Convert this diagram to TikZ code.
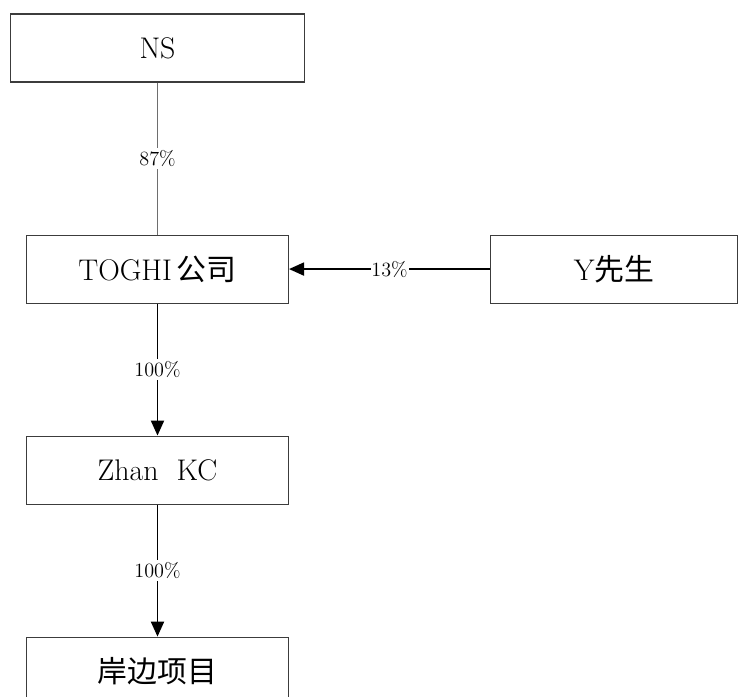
\documentclass[tikz,border=0pt]{standalone}
\usepackage{fontspec}
\newfontfamily\cjk{Noto Sans CJK SC}
\usetikzlibrary{positioning, arrows.meta}
\definecolor{boxgray}{RGB}{60,60,60}
\definecolor{linegray}{RGB}{110,110,110}

\begin{document}
\begin{tikzpicture}[
  node distance=2.64cm,
  ownbox/.style={draw=boxgray, line width=0.6pt, minimum width=5.24cm, minimum height=1.36cm,
                 inner sep=0pt, font=\fontsize{17}{20}\selectfont},
  share/.style={-{Triangle[length=0.3cm, width=0.26cm]}, line width=1.1pt},
  pct/.style={fill=white, text=black, inner sep=1.5pt, font=\fontsize{11.5}{13}\selectfont}
]
  \useasboundingbox (0,0) rectangle (14.88,-13.94);
  \clip (0,0) rectangle (14.88,-13.94);
  \node[ownbox, minimum width=5.88cm] (ns) at (3.15,-0.96) {NS};
  \node[ownbox, below=3.04cm of ns] (toghi) {TOGHI\,{\cjk 公司}};
  \node[ownbox, minimum width=4.94cm, right=4.02cm of toghi] (mry) {Y{\cjk 先生}};
  \node[ownbox, below=of toghi] (zhan) {Zhan\ \ KC};
  \node[ownbox, below=of zhan] (project) {{\cjk 岸边项目}};
  \draw[linegray, line width=0.6pt] (ns) -- node[pct] {87\%} (toghi);
  \draw[share] (mry) -- node[pct, inner sep=0.5pt] {13\%} (toghi);
  \draw[share] (toghi) -- node[pct] {100\%} (zhan);
  \draw[share] (zhan) -- node[pct] {100\%} (project);
\end{tikzpicture}
\end{document}
